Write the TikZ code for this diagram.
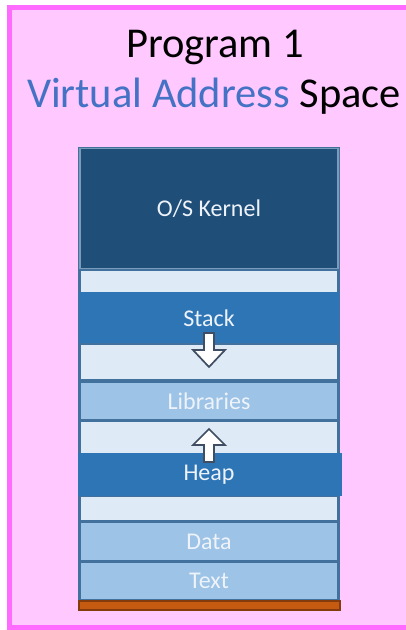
\documentclass[tikz,border=0pt]{standalone}
\usepackage{fontspec}
\setmainfont{Carlito}
\definecolor{framepink}{HTML}{FFC8FF}
\definecolor{framemag}{HTML}{FF6BFF}
\definecolor{titleblue}{HTML}{4472C4}
\definecolor{kernelblue}{HTML}{1F4E79}
\definecolor{midblue}{HTML}{2E75B6}
\definecolor{paleblue}{HTML}{DEEBF7}
\definecolor{softblue}{HTML}{9DC3E6}
\definecolor{edgeblue}{HTML}{41719C}
\definecolor{rust}{HTML}{C55A11}
\definecolor{rustedge}{HTML}{843C0C}
\definecolor{arrowedge}{HTML}{3F4E63}
\definecolor{labelwhite}{HTML}{EEF3FA}
\tikzset{
  seg/.style={draw=edgeblue, line width=1.2pt},
  seglabel/.style={text=labelwhite, font=\fontsize{24}{28}\selectfont, inner sep=0pt},
  blockarrow/.style={draw=arrowedge, fill=white, line width=1.7pt, line join=miter}
}
\begin{document}
\begin{tikzpicture}[x=1pt,y=-1pt]
\useasboundingbox (0,0) rectangle (406,630);
% page frame, open on the right where it runs off the page
\fill[white] (0,0) rectangle (406,630);
\fill[framepink] (9.5,7.5) rectangle (406,627.5);
\draw[draw=framemag, line width=5pt] (406,7.5) -- (9.5,7.5) -- (9.5,627.5) -- (406,627.5);
% title
\node[font=\fontsize{42.5}{50}\selectfont, anchor=base] (title1) at (215,57) {Program 1};
\node[font=\fontsize{42.5}{50}\selectfont, anchor=base] (title2) at (214,107)
  {\textcolor{titleblue}{Virtual Address} Space};
% memory column
\draw[draw=edgeblue, fill=edgeblue, line width=1pt] (78.5,147.5) rectangle (339.5,600);
\filldraw[seg, draw=edgeblue!70!white, fill=kernelblue] (80,148.5) rectangle (338,268.5);
\filldraw[seg, fill=paleblue] (80,270.5) rectangle (338,292.5);
\filldraw[seg, draw=midblue, fill=midblue] (80,293) rectangle (338,343);
\filldraw[seg, fill=paleblue] (80,344) rectangle (338,380);
\filldraw[seg, fill=softblue] (80,382) rectangle (338,419.5);
\filldraw[seg, fill=paleblue] (80,421.5) rectangle (338,453.5);
\filldraw[seg, draw=midblue, fill=midblue] (79,454) rectangle (341,495.5);
\filldraw[seg, fill=paleblue] (80,496.5) rectangle (338,521);
\filldraw[seg, fill=softblue] (80,522.5) rectangle (338,560.5);
\filldraw[seg, fill=softblue] (80,562) rectangle (338,600);
\filldraw[draw=rustedge, fill=rust, line width=1.5pt] (79,601) rectangle (340,610);
% segment labels
\node[seglabel] (kernel) at (209,209) {O/S Kernel};
\node[seglabel] (stack) at (209,318) {Stack};
\node[seglabel] (libs) at (209,401) {Libraries};
\node[seglabel] (heap) at (209,475) {Heap};
\node[seglabel] (data) at (209,542) {Data};
\node[seglabel] (text) at (209,581) {Text};
% growth arrows
\draw[blockarrow] (204,333) -- (214,333) -- (214,350) -- (225,350) -- (209,367)
  -- (193,350) -- (204,350) -- cycle;
\draw[blockarrow] (204,462) -- (214,462) -- (214,445) -- (225,445) -- (209,429)
  -- (193,445) -- (204,445) -- cycle;
\end{tikzpicture}
\end{document}
